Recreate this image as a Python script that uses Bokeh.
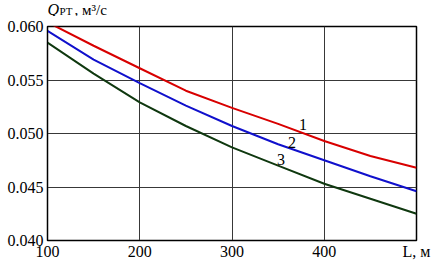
from bokeh.plotting import figure
from bokeh.layouts import column
from bokeh.models import FixedTicker, PrintfTickFormatter, Label, Range1d
from bokeh.embed import file_html
from bokeh.resources import INLINE

L_values = [100, 150, 200, 250, 300, 350, 400, 450, 500]
q_curve1 = [0.0604, 0.0582, 0.0561, 0.0540, 0.0524, 0.0509, 0.0493, 0.0479, 0.0468]
q_curve2 = [0.0596, 0.0569, 0.0547, 0.0526, 0.0507, 0.0490, 0.0475, 0.0460, 0.0446]
q_curve3 = [0.0585, 0.0556, 0.0529, 0.0507, 0.0487, 0.0470, 0.0453, 0.0439, 0.0425]
x_ticks = [100, 200, 300, 400, 500]
y_ticks = [0.040, 0.045, 0.050, 0.055, 0.060]
x_title_at = 500
x_title = "L, м"
curve_labels = ["1", "2", "3"]
curve_label_pos = [(377, 0.0508), (365, 0.0492), (353, 0.0476)]

FONT = "Liberation Serif"
W = 432
LEFT = 47
RIGHT = 16
HEAD = 16

# ---- main plot ----
p = figure(width=W, height=262 - HEAD, output_backend="svg", toolbar_location=None,
           x_range=Range1d(100, 500), y_range=Range1d(0.040, 0.060),
           min_border_left=LEFT, min_border_right=RIGHT, min_border_top=10, min_border_bottom=0)
p.background_fill_color = "white"
p.border_fill_color = "white"
p.outline_line_color = "black"
p.outline_line_width = 1.5

for ax in (p.xaxis, p.yaxis):
    ax.major_tick_out = 0
    ax.major_tick_in = 0
    ax.minor_tick_out = 0
    ax.minor_tick_in = 0
    ax.axis_line_color = "black"
    ax.major_label_text_font = FONT
    ax.major_label_text_font_size = "16px"
    ax.major_label_text_color = "black"

p.xaxis.ticker = FixedTicker(ticks=x_ticks)
p.xaxis.major_label_overrides = {x_title_at: x_title}
p.yaxis.ticker = FixedTicker(ticks=y_ticks)
p.yaxis.formatter = PrintfTickFormatter(format="%.3f")
p.xaxis.major_label_standoff = 2
p.yaxis.major_label_standoff = 4

p.xgrid.ticker = FixedTicker(ticks=x_ticks)
p.ygrid.ticker = FixedTicker(ticks=y_ticks)
for g in (p.xgrid, p.ygrid):
    g.grid_line_color = "#383838"
    g.grid_line_width = 1
    g.grid_line_alpha = 1.0

p.line(L_values, q_curve1, line_color="#d80000", line_width=2)
p.line(L_values, q_curve2, line_color="#1010cc", line_width=2)
p.line(L_values, q_curve3, line_color="#0f380f", line_width=2)

for txt, (lx, ly) in zip(curve_labels, curve_label_pos):
    p.add_layout(Label(x=lx, y=ly, text=txt, text_font=FONT, text_font_size="16px",
                       text_color="black", text_align="center", text_baseline="middle"))

# ---- header strip with the y-axis title ----
h = figure(width=W, height=HEAD, output_backend="svg", toolbar_location=None,
           x_range=p.x_range, y_range=Range1d(0, HEAD), x_axis_type=None, y_axis_type=None,
           min_border_left=LEFT, min_border_right=RIGHT, min_border_top=0, min_border_bottom=0)
h.outline_line_color = None
h.xgrid.visible = False
h.ygrid.visible = False
h.background_fill_color = "white"
h.border_fill_color = "white"

h.add_layout(Label(x=100, y=HEAD, text="Q", text_font=FONT, text_font_style="italic",
                   text_font_size="16px", text_color="black", text_baseline="top",
                   y_offset=0))
h.add_layout(Label(x=100, y=HEAD, text="РТ", text_font=FONT,
                   text_font_size="11px", text_color="black", text_baseline="top",
                   x_offset=12, y_offset=-4))
h.add_layout(Label(x=100, y=HEAD, text=", м³/с", text_font=FONT,
                   text_font_size="15px", text_color="black", text_baseline="top",
                   x_offset=27, y_offset=-1))

layout = column(h, p, spacing=0)
open("out.html", "w").write(file_html(layout, INLINE))
